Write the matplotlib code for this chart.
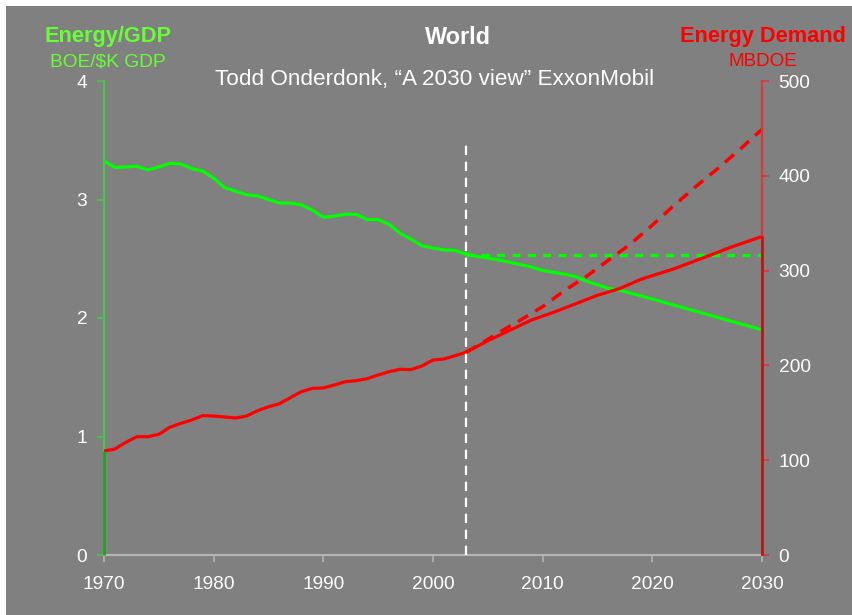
import numpy as np
import matplotlib
matplotlib.use("Agg")
import matplotlib.pyplot as plt
from matplotlib.patches import Rectangle

plt.rcParams['font.family'] = ['Liberation Sans', 'DejaVu Sans']

BG = '#808080'
GREEN = '#00ff00'
RED = '#ff0000'

# Energy/GDP (BOE per $K GDP), history 1970-2003
gdp_years = list(range(1970, 2004))
gdp_hist = [3.325, 3.27, 3.275, 3.28, 3.25, 3.275, 3.305, 3.30, 3.26, 3.24,
            3.18, 3.10, 3.07, 3.04, 3.03, 3.00, 2.97, 2.97, 2.955, 2.91,
            2.85, 2.86, 2.875, 2.875, 2.83, 2.83, 2.79, 2.715, 2.665, 2.61,
            2.59, 2.575, 2.57, 2.54]
# Energy/GDP outlook
gdp_proj_years = [2003, 2004, 2005, 2006, 2007, 2008, 2009, 2010, 2011, 2012,
                  2013, 2014, 2015, 2016, 2017, 2020, 2025, 2030]
gdp_proj = [2.54, 2.52, 2.505, 2.49, 2.47, 2.45, 2.43, 2.40, 2.385, 2.37,
            2.35, 2.31, 2.28, 2.25, 2.235, 2.16, 2.03, 1.90]
# Energy/GDP held flat
gdp_flat_years = [2003, 2030]
gdp_flat = [2.53, 2.53]

# Energy demand (MBDOE), history 1970-2003
dem_hist = [109.7, 111.8, 118.9, 124.8, 124.8, 127.3, 134.7, 138.9, 142.4, 147.0,
            146.6, 145.6, 144.5, 146.6, 152.2, 156.4, 159.6, 166.0, 172.3, 175.8,
            176.2, 179.3, 182.8, 183.9, 186.0, 189.9, 193.4, 195.9, 195.6, 199.4,
            205.7, 206.8, 210.2, 213.8]
# Energy demand outlook
dem_proj_years = [2003, 2005, 2007, 2009, 2011, 2013, 2015, 2017, 2019, 2022,
                  2025, 2027, 2030]
dem_proj = [213.8, 226, 237, 248, 256, 265, 274, 281, 291, 302, 315, 324, 336]
# Energy demand with flat Energy/GDP
dem_flat_years = [2003, 2004, 2006, 2008, 2010, 2012, 2014, 2016, 2018, 2020,
                  2022, 2024, 2026, 2028, 2030]
dem_flat = [213.8, 220.5, 234.5, 248, 262, 279, 294, 311, 328, 348,
            369, 389, 408, 428, 449]

split_year = 2003

fig = plt.figure(figsize=(8.53, 6.15), dpi=100)
fig.patch.set_facecolor('white')
fig.add_artist(Rectangle((6 / 853, 0), 1, 1 - 6 / 615, transform=fig.transFigure,
                         facecolor=BG, edgecolor='none', zorder=-10))

ax = fig.add_axes([104 / 853, 60 / 615, 658 / 853, 474 / 615])
ax.set_facecolor(BG)
ax2 = ax.twinx()
ax2.patch.set_visible(False)

# green series on the left axis
ax.plot(gdp_years, gdp_hist, color=GREEN, lw=2.3, solid_joinstyle='round')
ax.plot(gdp_proj_years, gdp_proj, color=GREEN, lw=2.3, solid_joinstyle='round')
ax.plot(gdp_flat_years, gdp_flat, color=GREEN, lw=2.4, linestyle=(0, (2.4, 2.2)))

# red series on the right axis
ax2.plot(gdp_years, dem_hist, color=RED, lw=2.3, solid_joinstyle='round')
ax2.plot(dem_proj_years, dem_proj, color=RED, lw=2.3, solid_joinstyle='round')
ax2.plot(dem_flat_years, dem_flat, color=RED, lw=2.5, linestyle=(0, (3.4, 2.4)))

# drop lines at the ends of the demand curve
ax2.vlines(gdp_years[0], 0, dem_hist[0], color='#22a022', lw=2, zorder=5, clip_on=False)
ax2.vlines(dem_proj_years[-1], 0, dem_proj[-1], color='#b81818', lw=2, zorder=5, clip_on=False)

# history / outlook divider
ax2.plot([split_year, split_year], [0, 3.47 * 125], color='white', lw=1.6,
         linestyle=(0, (4.2, 3.0)), zorder=6)

ax.set_xlim(1970, 2030)
ax.set_ylim(0, 4)
ax2.set_ylim(0, 500)
ax.set_xticks(range(1970, 2031, 10))
ax.set_yticks(range(0, 5))
ax2.set_yticks(range(0, 501, 100))

for a in (ax, ax2):
    a.spines['top'].set_visible(False)
ax.spines['right'].set_visible(False)
ax2.spines['left'].set_visible(False)
ax2.spines['bottom'].set_visible(False)
ax.spines['left'].set_color('#44c844')
ax.spines['left'].set_linewidth(1.6)
ax2.spines['right'].set_color('#d83838')
ax2.spines['right'].set_linewidth(1.6)
ax.spines['bottom'].set_color('#b4b4b4')
ax.spines['bottom'].set_linewidth(1.6)

ax.tick_params(axis='x', direction='out', length=5, width=1.2, color='#b4b4b4',
               labelcolor='white', labelsize=13.8, pad=10)
ax.tick_params(axis='y', direction='out', length=5, width=1.2, color='#44c844',
               labelcolor='white', labelsize=13.8, pad=7)
ax2.tick_params(axis='y', direction='out', length=5, width=1.2, color='#d83838',
                labelcolor='white', labelsize=13.8, pad=7)

def fy(y):
    return 1 - y / 615

fig.text(458 / 853, fy(44), 'World', color='white', fontsize=16.8,
         fontweight='bold', ha='center', va='baseline')
fig.text(435 / 853, fy(85), 'Todd Onderdonk, \u201cA 2030 view\u201d ExxonMobil',
         color='white', fontsize=16.2, ha='center', va='baseline')
fig.text(108.5 / 853, fy(42), 'Energy/GDP', color='#66ff33', fontsize=15.7,
         fontweight='bold', ha='center', va='baseline')
fig.text(108 / 853, fy(66), 'BOE/$K GDP', color='#66ff33', fontsize=13.8,
         ha='center', va='baseline')
fig.text(763 / 853, fy(42), 'Energy Demand', color=RED, fontsize=15.7,
         fontweight='bold', ha='center', va='baseline')
fig.text(762.5 / 853, fy(66), 'MBDOE', color=RED, fontsize=13.6,
         ha='center', va='baseline')

fig.savefig('out.png', dpi=100, facecolor=fig.get_facecolor())
